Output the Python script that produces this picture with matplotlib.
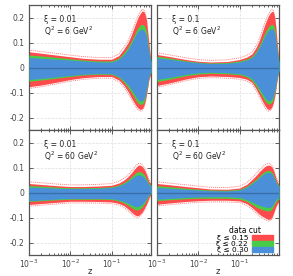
import matplotlib
matplotlib.use("Agg")
import matplotlib.pyplot as plt
import matplotlib.transforms as mtransforms
from matplotlib.patches import Patch
from matplotlib.ticker import FixedLocator, FuncFormatter, LogLocator

plt.rcParams['axes.unicode_minus'] = False
plt.rcParams['font.family'] = ['DejaVu Sans']

# z grid shared by all panels
z = [1e-3, 2e-3, 5e-3, 1e-2, 2e-2, 5e-2, 0.1, 0.15, 0.2, 0.25, 0.3, 0.35,
     0.4, 0.45, 0.5, 0.55, 0.6, 0.65, 0.7, 0.75, 0.8, 0.85, 0.9]

# panel a: xi = 0.01, Q2 = 6
a_red_hi = [0.063, 0.057, 0.049, 0.043, 0.037, 0.033, 0.033, 0.048, 0.075, 0.100, 0.130, 0.160,
            0.185, 0.205, 0.217, 0.226, 0.224, 0.212, 0.190, 0.140, 0.095, 0.055, 0.032]
a_grn_hi = [0.050, 0.046, 0.040, 0.035, 0.030, 0.026, 0.026, 0.038, 0.060, 0.082, 0.105, 0.128,
            0.150, 0.163, 0.170, 0.173, 0.170, 0.160, 0.145, 0.105, 0.072, 0.042, 0.026]
a_blu_hi = [0.040, 0.037, 0.033, 0.030, 0.026, 0.022, 0.022, 0.033, 0.052, 0.073, 0.095, 0.118,
            0.137, 0.147, 0.152, 0.153, 0.150, 0.140, 0.125, 0.090, 0.062, 0.036, 0.022]
a_blu_lo = [-0.048, -0.044, -0.037, -0.032, -0.027, -0.024, -0.025, -0.036, -0.053, -0.070, -0.088, -0.105,
            -0.121, -0.130, -0.135, -0.133, -0.128, -0.112, -0.085, -0.060, -0.035, -0.022, -0.018]
a_grn_lo = [-0.055, -0.050, -0.042, -0.036, -0.030, -0.027, -0.028, -0.040, -0.060, -0.080, -0.100, -0.118,
            -0.135, -0.144, -0.148, -0.146, -0.140, -0.122, -0.094, -0.067, -0.040, -0.025, -0.021]
a_red_lo = [-0.077, -0.070, -0.058, -0.048, -0.041, -0.036, -0.036, -0.050, -0.072, -0.096, -0.121, -0.140,
            -0.155, -0.164, -0.168, -0.164, -0.155, -0.135, -0.108, -0.078, -0.048, -0.034, -0.028]

# panel b: xi = 0.1, Q2 = 6
b_red_hi = [0.052, 0.044, 0.032, 0.025, 0.022, 0.024, 0.032, 0.042, 0.055, 0.080, 0.108, 0.140,
            0.168, 0.190, 0.207, 0.218, 0.224, 0.224, 0.205, 0.165, 0.110, 0.060, 0.030]
b_grn_hi = [0.045, 0.038, 0.027, 0.021, 0.018, 0.020, 0.026, 0.034, 0.045, 0.065, 0.088, 0.112,
            0.135, 0.152, 0.163, 0.170, 0.173, 0.172, 0.158, 0.125, 0.082, 0.045, 0.022]
b_blu_hi = [0.039, 0.033, 0.024, 0.019, 0.016, 0.017, 0.022, 0.030, 0.040, 0.058, 0.080, 0.102,
            0.122, 0.138, 0.148, 0.153, 0.155, 0.154, 0.141, 0.112, 0.073, 0.040, 0.018]
b_blu_lo = [-0.048, -0.040, -0.028, -0.021, -0.019, -0.021, -0.025, -0.033, -0.045, -0.065, -0.085, -0.103,
            -0.118, -0.128, -0.133, -0.132, -0.127, -0.115, -0.095, -0.070, -0.042, -0.022, -0.012]
b_grn_lo = [-0.056, -0.047, -0.033, -0.026, -0.023, -0.025, -0.029, -0.038, -0.052, -0.074, -0.096, -0.115,
            -0.131, -0.141, -0.146, -0.145, -0.139, -0.127, -0.105, -0.078, -0.047, -0.025, -0.014]
b_red_lo = [-0.072, -0.062, -0.046, -0.037, -0.034, -0.036, -0.040, -0.047, -0.060, -0.085, -0.110, -0.132,
            -0.150, -0.162, -0.168, -0.166, -0.158, -0.143, -0.120, -0.090, -0.055, -0.030, -0.018]

# panel c: xi = 0.01, Q2 = 60
c_red_hi = [0.036, 0.032, 0.027, 0.024, 0.024, 0.026, 0.029, 0.038, 0.050, 0.064, 0.078, 0.092,
            0.103, 0.110, 0.109, 0.104, 0.096, 0.085, 0.072, 0.058, 0.045, 0.040, 0.038]
c_grn_hi = [0.028, 0.025, 0.021, 0.019, 0.019, 0.020, 0.023, 0.030, 0.040, 0.051, 0.062, 0.073,
            0.080, 0.084, 0.083, 0.079, 0.073, 0.065, 0.055, 0.045, 0.036, 0.032, 0.030]
c_blu_hi = [0.022, 0.020, 0.017, 0.016, 0.016, 0.017, 0.020, 0.026, 0.035, 0.045, 0.055, 0.064,
            0.069, 0.071, 0.070, 0.067, 0.062, 0.055, 0.047, 0.038, 0.031, 0.028, 0.026]
c_blu_lo = [-0.033, -0.030, -0.026, -0.024, -0.024, -0.024, -0.025, -0.030, -0.036, -0.043, -0.050, -0.055,
            -0.057, -0.056, -0.052, -0.047, -0.040, -0.032, -0.024, -0.016, -0.010, -0.006, -0.004]
c_grn_lo = [-0.036, -0.033, -0.029, -0.027, -0.027, -0.027, -0.028, -0.034, -0.042, -0.051, -0.060, -0.067,
            -0.070, -0.069, -0.064, -0.058, -0.050, -0.040, -0.030, -0.021, -0.014, -0.008, -0.006]
c_red_lo = [-0.048, -0.044, -0.039, -0.035, -0.035, -0.036, -0.038, -0.044, -0.053, -0.066, -0.078, -0.088,
            -0.093, -0.092, -0.086, -0.078, -0.068, -0.057, -0.046, -0.034, -0.022, -0.014, -0.010]

# panel d: xi = 0.1, Q2 = 60
d_red_hi = [0.036, 0.031, 0.024, 0.019, 0.014, 0.013, 0.018, 0.033, 0.052, 0.068, 0.083, 0.094,
            0.103, 0.108, 0.110, 0.108, 0.103, 0.092, 0.076, 0.060, 0.047, 0.038, 0.036]
d_grn_hi = [0.027, 0.023, 0.017, 0.013, 0.010, 0.009, 0.013, 0.025, 0.041, 0.053, 0.066, 0.076,
            0.083, 0.087, 0.088, 0.087, 0.082, 0.073, 0.060, 0.048, 0.038, 0.031, 0.029]
d_blu_hi = [0.020, 0.017, 0.013, 0.010, 0.007, 0.006, 0.010, 0.021, 0.036, 0.047, 0.060, 0.069,
            0.076, 0.079, 0.080, 0.079, 0.075, 0.066, 0.053, 0.042, 0.033, 0.027, 0.025]
d_blu_lo = [-0.027, -0.024, -0.020, -0.018, -0.017, -0.017, -0.020, -0.029, -0.039, -0.046, -0.051, -0.055,
            -0.057, -0.059, -0.060, -0.059, -0.055, -0.047, -0.037, -0.030, -0.025, -0.023, -0.022]
d_grn_lo = [-0.032, -0.029, -0.025, -0.023, -0.023, -0.023, -0.026, -0.036, -0.048, -0.058, -0.064, -0.068,
            -0.071, -0.073, -0.074, -0.072, -0.067, -0.058, -0.047, -0.039, -0.032, -0.029, -0.028]
d_red_lo = [-0.047, -0.042, -0.036, -0.033, -0.031, -0.031, -0.034, -0.045, -0.060, -0.075, -0.087, -0.095,
            -0.100, -0.105, -0.108, -0.106, -0.100, -0.087, -0.071, -0.058, -0.046, -0.040, -0.040]

panel_labels = ['ξ = 0.01\nQ$^2$ = 6 GeV$^2$', 'ξ = 0.1\nQ$^2$ = 6 GeV$^2$',
                'ξ = 0.01\nQ$^2$ = 60 GeV$^2$', 'ξ = 0.1\nQ$^2$ = 60 GeV$^2$']
legend_labels = ['ξ ≤ 0.15', 'ξ ≤ 0.22', 'ξ ≤ 0.30']
yticks = [-0.2, -0.1, 0, 0.1, 0.2]

RED = '#ff4b4b'
GREEN = '#48cc48'
BLUE = '#4a8fd8'

panels = [
    (a_red_hi, a_grn_hi, a_blu_hi, a_blu_lo, a_grn_lo, a_red_lo),
    (b_red_hi, b_grn_hi, b_blu_hi, b_blu_lo, b_grn_lo, b_red_lo),
    (c_red_hi, c_grn_hi, c_blu_hi, c_blu_lo, c_grn_lo, c_red_lo),
    (d_red_hi, d_grn_hi, d_blu_hi, d_blu_lo, d_grn_lo, d_red_lo),
]

fig = plt.figure(figsize=(2.93, 2.76), dpi=100)
W, H = 293.0, 276.0
boxes = [(29, 5), (157, 5), (29, 130), (157, 130)]

def yfmt(v, pos):
    if abs(v) < 1e-9:
        return '0'
    return '%.1f' % v

for i, (px, py) in enumerate(boxes):
    ax = fig.add_axes([px / W, 1 - (py + 125) / H, 122 / W, 125 / H])
    rh, gh, bh, bl, gl, rl = panels[i]
    ax.fill_between(z, rl, rh, color=RED, lw=0, zorder=2)
    ax.fill_between(z, gl, gh, color=GREEN, lw=0, zorder=3)
    ax.fill_between(z, bl, bh, color=BLUE, lw=0, zorder=4)
    # dotted outline sitting just outside the widest band
    up = mtransforms.offset_copy(ax.transData, fig=fig, y=1.2, units='points')
    dn = mtransforms.offset_copy(ax.transData, fig=fig, y=-1.2, units='points')
    ax.plot(z, rh, color='#ff7a7a', lw=0.7, ls=(0, (1, 1)), transform=up, zorder=1)
    ax.plot(z, rl, color='#ff7a7a', lw=0.7, ls=(0, (1, 1)), transform=dn, zorder=1)
    ax.axhline(0, color='#3b6ea6', lw=1.0, zorder=5)

    ax.set_xscale('log')
    ax.set_xlim(1e-3, 0.9)
    ax.set_ylim(-0.25, 0.25)
    ax.yaxis.set_major_locator(FixedLocator(yticks))
    ax.yaxis.set_major_formatter(FuncFormatter(yfmt))
    ax.xaxis.set_major_locator(LogLocator(base=10, numticks=10))
    ax.xaxis.set_minor_locator(LogLocator(base=10, subs=range(2, 10), numticks=10))
    ax.grid(True, which='major', color='#dddddd', ls='--', lw=0.5, zorder=0)
    ax.tick_params(which='both', direction='in', top=True, right=True,
                   labelsize=5.5, colors='#444444', width=0.6)
    ax.tick_params(which='major', length=3)
    ax.tick_params(which='minor', length=1.5)
    ax.tick_params(axis='x', pad=2)
    for s in ax.spines.values():
        s.set_color('#555555')
        s.set_linewidth(0.9)

    if i % 2 == 1:
        ax.tick_params(labelleft=False)
    if i < 2:
        ax.tick_params(labelbottom=False)
    else:
        ax.set_xlabel('z', fontsize=6, color='#333333')
        ax.xaxis.set_label_coords(0.5, -0.095)

    ax.text(0.12, 0.92, panel_labels[i], transform=ax.transAxes, fontsize=5.5,
            va='top', ha='left', color='#222222', linespacing=1.1, zorder=6)

    if i == 3:
        handles = [Patch(color=RED), Patch(color=GREEN), Patch(color=BLUE)]
        ax.legend(handles, legend_labels, title='data cut', loc='lower right',
                  bbox_to_anchor=(0.97, 0.0),
                  frameon=False, fontsize=5.3, title_fontsize=5.5,
                  markerfirst=False, handlelength=2.9, handleheight=0.6,
                  labelspacing=0.0, borderaxespad=0.1, handletextpad=0.5,
                  borderpad=0.2)

fig.savefig('out.png', dpi=100)
